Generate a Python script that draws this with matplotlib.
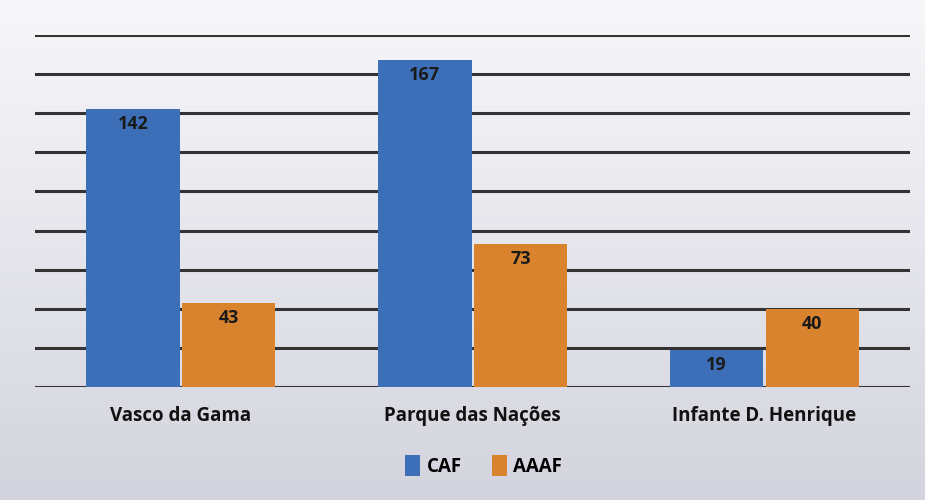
import numpy as np
import matplotlib.pyplot as plt

# valores
categorias = ["Vasco da Gama", "Parque das Nações", "Infante D. Henrique"]
caf = [142, 167, 19]
aaaf = [43, 73, 40]
series = ["CAF", "AAAF"]

azul = "#3d6fb9"
laranja = "#da832f"

plt.rcParams['font.family'] = ['Open Sans', 'DejaVu Sans']

fig = plt.figure(figsize=(9.25, 5), dpi=100)

# fundo tipo papel digitalizado (claro em cima, cinzento em baixo)
bg = fig.add_axes([0, 0, 1, 1], zorder=-10)
grad = np.linspace(0, 1, 256).reshape(-1, 1)
cores = np.array([[0.97, 0.97, 0.98], [0.83, 0.83, 0.87]])
img = cores[0] * (1 - grad[..., None]) + cores[1] * grad[..., None]
bg.imshow(img, aspect='auto', extent=[0, 1, 0, 1])
bg.axis('off')

ax = fig.add_axes([0.038, 0.226, 0.946, 0.704])
ax.patch.set_alpha(0)

x = np.arange(len(categorias))
w = 0.32
b1 = ax.bar(x - w/2 - 0.004, caf, w, color=azul, label=series[0], zorder=3)
b2 = ax.bar(x + w/2 + 0.004, aaaf, w, color=laranja, label=series[1], zorder=3)

for barras in (b1, b2):
    for b in barras:
        ax.text(b.get_x() + b.get_width()/2, b.get_height() - 3, str(int(b.get_height())),
                ha='center', va='top', fontsize=13, fontweight='bold', color='#1a1a1a', zorder=4)

ax.set_xlim(-0.5, 2.5)
ax.set_ylim(0, 180)
ax.set_yticks(np.arange(0, 181, 20))
ax.yaxis.grid(True, color='#333333', linewidth=2.2, zorder=1)
ax.set_yticklabels([])
ax.tick_params(length=0)
ax.set_xticks(x)
ax.set_xticklabels(categorias, fontsize=13.5, fontweight='bold', color='#111111')
ax.tick_params(axis='x', pad=14)
for s in ax.spines.values():
    s.set_visible(False)

leg = fig.legend(loc='center', bbox_to_anchor=(0.523, 0.068), ncol=2, frameon=False,
                 handlelength=0.8, handleheight=1.3, handletextpad=0.35, columnspacing=1.6,
                 prop={'weight': 'bold', 'size': 13.5})

fig.savefig("out.png", dpi=100)
